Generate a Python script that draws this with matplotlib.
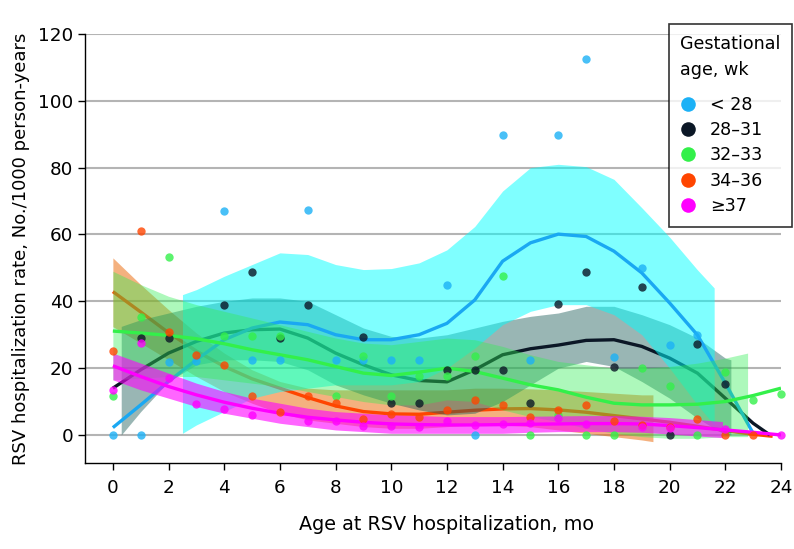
import numpy as np
import matplotlib
matplotlib.use('Agg')
import matplotlib.pyplot as plt
from matplotlib.lines import Line2D

plt.rcParams['font.family'] = ['DejaVu Sans']

nan = np.nan
months = np.arange(25)

# observed hospitalization rates per month of age, No./1000 person-years
rate_lt28 = [0, 0, 21.9, 22.1, 66.9, 22.3, 22.3, 67.2, 22.3, 22.3, 22.4, 22.4, 44.9,
             0, 89.8, 22.3, 89.8, 112.5, 23.2, 49.9, 26.9, 29.9, nan, nan, nan]
rate_28_31 = [nan, 29.1, 29.1, nan, 38.9, 48.7, 29.1, 39.0, nan, 29.2, 9.5, 9.5, 19.5,
              19.5, 19.5, 9.7, 39.1, 48.9, 20.2, 44.3, 0, 27.1, 15.2, nan, nan]
rate_32_33 = [11.6, 35.3, 53.3, nan, 29.5, 29.6, 29.6, nan, 11.7, 23.7, 11.7, 17.7, 17.7,
              23.7, 47.7, 0, 6.0, 0, 0, 20.0, 14.8, 0, 18.8, 10.4, 12.3]
rate_34_36 = [25.1, 61.0, 30.7, 24.0, 21.0, 11.7, 6.8, 11.7, 9.7, 4.7, 6.2, 5.5, 7.5,
              10.5, 9.0, 5.5, 7.5, 9.0, 4.2, 3.0, 2.5, 4.7, 0, 0, nan]
rate_ge37 = [13.6, 27.6, 16.9, 9.4, 7.8, 6.0, nan, 4.3, 4.3, 2.6, 2.8, 2.5, 4.2,
             3.0, 3.3, 3.5, 5.0, 3.2, nan, 2.5, 2.0, nan, 1.7, nan, 0]

# smoothed fits
fit_x_lt28 = list(range(24))
fit_lt28 = [2.2, 9, 16, 22.5, 28.5, 32, 33.8, 33, 30, 28.5, 28.5, 30, 33.4, 40.4,
            52, 57.5, 60.1, 59.4, 55, 48.5, 39.5, 29.9, 15.5, 0.5]
fit_x_28_31 = list(range(24)) + [23.6]
fit_28_31 = [14, 19.5, 24.5, 28, 30.5, 31.5, 31.7, 29, 24.5, 21, 18, 16.3, 15.9, 19.5,
             24, 25.8, 26.9, 28.3, 28.5, 26.5, 23, 18.5, 11, 3.5, 0]
fit_x_32_33 = list(range(25))
fit_32_33 = [31.1, 30.5, 29.8, 28.8, 27.3, 25.5, 24, 22.5, 20.5, 18.5, 17.8, 18.8, 20,
             19, 17, 15, 13.5, 11.3, 9.5, 9, 9, 9.2, 10, 11.8, 14]
fit_x_34_36 = list(range(24)) + [23.7]
fit_34_36 = [42.9, 36.8, 30.6, 25.1, 20.5, 16.8, 14, 11.2, 8.7, 7, 6.3, 6.2, 6.8, 7.4,
             7.8, 7.9, 7.5, 6.8, 5.8, 4.8, 3.8, 2.6, 1.3, 0.2, -0.4]
fit_x_ge37 = list(range(25))
fit_ge37 = [20.7, 17.5, 14.5, 12, 9.8, 8, 6.5, 5.3, 4.5, 3.8, 3.3, 3.1, 3, 3, 3.1, 3.2,
            3.3, 3.4, 3.4, 3.3, 2.8, 2.2, 1.5, 0.8, 0]

# confidence bands
band_x_lt28 = [2.5] + list(range(3, 22)) + [21.6]
lo_lt28 = [0.5, 3, 7, 11, 13, 14, 15, 15, 15, 16, 20, 26, 33, 37, 39, 39, 36, 30, 20, 9, 3]
hi_lt28 = [42, 43.5, 47.5, 51, 54.5, 54, 51, 49.5, 49.8, 51.5, 55.4, 62.4, 73, 80, 81,
           80.3, 76.5, 68, 59.2, 49.4, 44]
band_x_28_31 = [0.3] + list(range(1, 23)) + [22.2]
lo_28_31 = [0, 7, 16, 21, 22.5, 22.5, 22, 19.5, 15, 12, 9.5, 7.5, 6, 6.5, 10, 15, 20,
            22, 20.5, 16, 11, 5, 0, 0]
hi_28_31 = [32.5, 34.5, 36.5, 38.5, 40, 41, 41, 40, 36, 32, 29.5, 29, 30, 32, 34, 35.5,
            36.5, 38.5, 38.5, 36, 33, 29, 23, 22.5]
band_x_32_33 = list(range(23)) + [22.8]
lo_32_33 = [16.5, 17, 17.5, 17.5, 16.5, 15.5, 14.5, 13, 11.5, 10, 9, 9, 10.5, 10, 7.5,
            5.5, 4, 2, 0.5, -0.5, -1, -1, -0.5, -0.5]
hi_32_33 = [49, 45, 41.5, 39, 37, 35, 33, 31, 29, 27.5, 27, 28, 29, 28.5, 26.5, 24, 22,
            21, 20, 20, 20.5, 21.5, 23, 24.5]
band_x_34_36 = list(range(20)) + [19.4]
lo_34_36 = [32.4, 27.5, 22.5, 17.5, 13, 9.5, 6.5, 4.5, 3.5, 2.5, 2, 2, 2.5, 3, 3, 2.5,
            1.5, 0.5, -0.5, -1.5, -2]
hi_34_36 = [53, 45, 37.5, 30.5, 24.5, 19.5, 16, 14, 13.5, 13.5, 13.5, 13.5, 13.5, 14, 14,
            13.8, 13.5, 13, 12.5, 12, 12]
band_x_ge37 = list(range(22)) + [21.9]
lo_ge37 = [16.5, 13.5, 11, 8.5, 6.5, 5, 3.5, 2.5, 1.5, 1, 0.5, 0.5, 0.5, 0.5, 0.5, 0.8,
           1, 1, 1, 0.8, 0.3, -0.3, -0.8]
hi_ge37 = [24.5, 21.5, 18.5, 15.5, 13, 11, 9.5, 8, 7, 6.5, 6, 5.8, 5.5, 5.5, 5.5, 5.6,
           5.7, 5.8, 5.8, 5.6, 5.2, 4.6, 4]

labels = ['< 28', '28–31', '32–33', '34–36', '≥37']
pt_colors = ['#1CB1F6', '#0B1726', '#33F04A', '#FF4500', '#FF00FF']
line_colors = ['#1AA8F2', '#0B1726', '#33F04A', '#FF4500', '#FF00FF']
band_colors = ['#00FFFF', '#1E5E5A', '#33EE55', '#EB6400', '#FF00FF']
band_alpha = [0.5, 0.45, 0.4, 0.5, 0.6]

rates = [rate_lt28, rate_28_31, rate_32_33, rate_34_36, rate_ge37]
fits = [(fit_x_lt28, fit_lt28), (fit_x_28_31, fit_28_31), (fit_x_32_33, fit_32_33),
        (fit_x_34_36, fit_34_36), (fit_x_ge37, fit_ge37)]
bands = [(band_x_lt28, lo_lt28, hi_lt28), (band_x_28_31, lo_28_31, hi_28_31),
         (band_x_32_33, lo_32_33, hi_32_33), (band_x_34_36, lo_34_36, hi_34_36),
         (band_x_ge37, lo_ge37, hi_ge37)]

fig = plt.figure(figsize=(7.94, 5.49), dpi=100)
ax = fig.add_axes([0.1071, 0.1572, 0.8765, 0.7809])

# draw order of bands + lines
draw_order = [3, 1, 0, 2, 4]
z = 2
for i in draw_order:
    bx, lo, hi = bands[i]
    ax.fill_between(bx, lo, hi, color=band_colors[i], alpha=band_alpha[i],
                    linewidth=0, zorder=z)
    fx, fy = fits[i]
    ax.plot(fx, fy, color=line_colors[i], lw=2.4, zorder=z + 1,
            solid_capstyle='butt')
    z += 2

for i in range(5):
    ax.scatter(months, rates[i], s=36, color=pt_colors[i], alpha=0.8,
               linewidths=0, zorder=30, clip_on=False)

ax.set_xlim(-1, 24)
ax.set_ylim(-8.3, 120)
ax.set_xticks(range(0, 25, 2))
ax.set_yticks(range(0, 121, 20))
ax.yaxis.grid(True, color='#B4B4B4', lw=1.5, zorder=0)
ax.set_axisbelow(True)
for s in ['top', 'right']:
    ax.spines[s].set_visible(False)
for s in ['left', 'bottom']:
    ax.spines[s].set_linewidth(1.0)
ax.tick_params(direction='out', length=5, width=1.0, labelsize=13.2)
ax.tick_params(axis='x', pad=6.5)
ax.tick_params(axis='y', pad=3.5)

ax.set_xlabel('Age at RSV hospitalization, mo', fontsize=13.8, labelpad=13)
ax.xaxis.label.set_x(13 / 25)  # centred on the 0-24 month range
ax.set_ylabel('RSV hospitalization rate, No./1000 person-years', fontsize=13.0,
              labelpad=6)

handles = [Line2D([], [], ls='', marker='o', markersize=10.5, color=c,
                  markeredgewidth=0) for c in pt_colors]
leg = fig.legend(handles, labels, title='Gestational\nage, wk', loc='upper right',
                 bbox_to_anchor=(792 / 794, 1 - 24 / 549), frameon=True,
                 fancybox=False, edgecolor='black', fontsize=12.6,
                 title_fontsize=12.6, alignment='left', handlelength=0.9,
                 handletextpad=0.8, labelspacing=0.42, borderpad=0.65,
                 borderaxespad=0)
leg.get_frame().set_linewidth(1.2)
leg.get_title().set_linespacing(1.55)
leg._legend_box.sep = 12

fig.savefig('out.png', dpi=100)
